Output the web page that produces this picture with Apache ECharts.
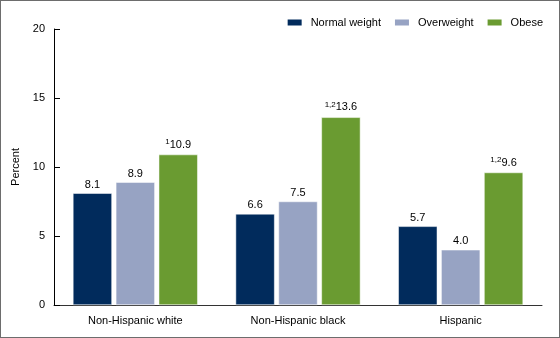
<!DOCTYPE html>
<html>
<head>
<meta charset="utf-8">
<script src="https://cdn.jsdelivr.net/npm/echarts@6/dist/echarts.min.js"></script>
<style>
  html, body { margin: 0; padding: 0; background: #fff; }
  #chart { width: 560px; height: 338px; box-sizing: border-box; border: 1px solid #6d6d6d; }
</style>
</head>
<body>
<div id="chart"></div>
<script>
// Percent by weight status within each race and Hispanic-origin group
const categories = ['Non-Hispanic white', 'Non-Hispanic black', 'Hispanic'];
const normalWeight = [8.1, 6.6, 5.7];
const overweight = [8.9, 7.5, 4.0];
const obese = [10.9, 13.6, 9.6];
// Footnote markers shown before the obese values
const obeseNotes = ['1', '1,2', '1,2'];
const yTicks = [0, 5, 10, 15, 20];

const font = 'Liberation Sans, Arial, sans-serif';

const chart = echarts.init(document.getElementById('chart'), null, { renderer: 'canvas' });

function plainLabel() {
  return {
    show: true,
    position: 'top',
    distance: 3,
    color: '#000',
    fontFamily: font,
    fontSize: 11,
    formatter: p => p.value.toFixed(1)
  };
}

chart.setOption({
  animation: false,
  textStyle: { fontFamily: font },
  legend: {
    top: 11,
    right: 11,
    itemWidth: 16,
    itemHeight: 8,
    itemGap: 12,
    icon: 'rect',
    textStyle: { fontFamily: font, fontSize: 11, color: '#000', padding: [0, 0, 0, 3] },
    data: ['Normal weight', 'Overweight', 'Obese']
  },
  grid: { left: 53, right: 17, top: 28, bottom: 32, containLabel: false },
  xAxis: {
    type: 'category',
    data: categories,
    axisLine: { lineStyle: { color: '#333', width: 1 } },
    axisTick: { show: false },
    axisLabel: { color: '#000', fontSize: 11, fontFamily: font, margin: 10 }
  },
  yAxis: {
    type: 'value',
    min: yTicks[0],
    max: yTicks[yTicks.length - 1],
    interval: 5,
    name: 'Percent',
    nameLocation: 'middle',
    nameGap: 28,
    nameTextStyle: { color: '#000', fontSize: 11, fontFamily: font },
    axisLine: { show: true, lineStyle: { color: '#000', width: 1 } },
    axisTick: { show: true, inside: true, length: 6, lineStyle: { color: '#000' } },
    axisLabel: { color: '#000', fontSize: 11, fontFamily: font, margin: 9 },
    splitLine: { show: false }
  },
  series: [
    {
      name: 'Normal weight',
      type: 'bar',
      data: normalWeight,
      barWidth: 39,
      barGap: '10%',
      itemStyle: { color: '#012b5c', borderColor: '#ffffff', borderWidth: 0.5 },
      label: plainLabel()
    },
    {
      name: 'Overweight',
      type: 'bar',
      data: overweight,
      barWidth: 39,
      barGap: '10%',
      itemStyle: { color: '#97a3c3', borderColor: '#ffffff', borderWidth: 0.5 },
      label: plainLabel()
    },
    {
      name: 'Obese',
      type: 'bar',
      data: obese,
      barWidth: 39,
      barGap: '10%',
      itemStyle: { color: '#6a9b31', borderColor: '#ffffff', borderWidth: 0.5 },
      label: {
        show: true,
        position: 'top',
        distance: 3,
        formatter: p => '{sup|' + obeseNotes[p.dataIndex] + '}{val|' + p.value.toFixed(1) + '}',
        rich: {
          sup: { fontSize: 8, fontFamily: font, color: '#000', verticalAlign: 'top', padding: [0, 0, 6, 0] },
          val: { fontSize: 11, fontFamily: font, color: '#000' }
        }
      }
    }
  ]
});
</script>
</body>
</html>
